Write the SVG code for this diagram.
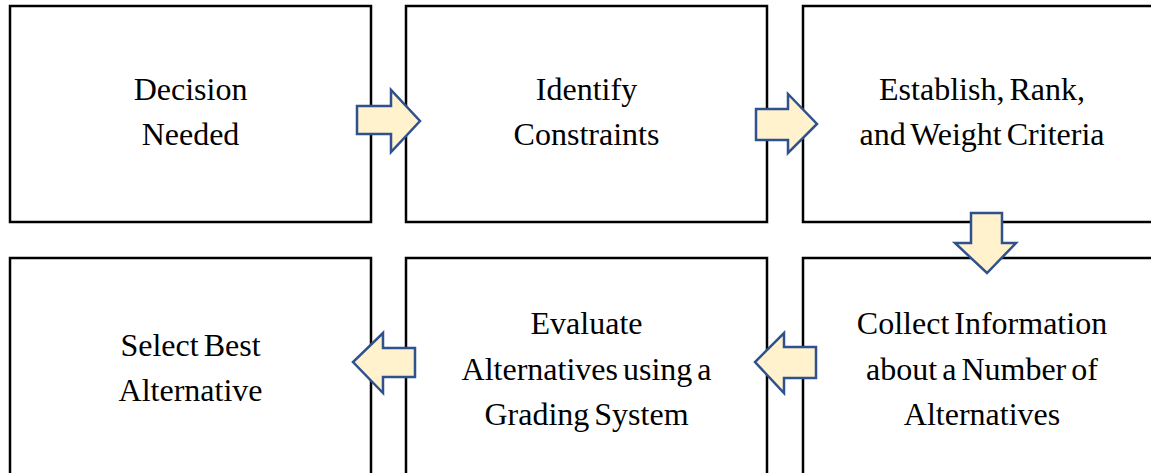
<svg xmlns="http://www.w3.org/2000/svg" width="1151" height="473" viewBox="0 0 1151 473">
<style>
.box{fill:#fff;stroke:#000;stroke-width:2.5}
.arr{fill:#FFF2CC;stroke:#2F528F;stroke-width:2.5;stroke-linejoin:miter}
text{font-family:"Liberation Serif","Times New Roman",serif;font-size:32px;fill:#000;text-anchor:middle;word-spacing:-3px}
</style>
<rect width="1151" height="473" fill="#fff"/>
<g id="n1"><rect class="box" x="10" y="6" width="361" height="216"/><text x="190.5" y="100">Decision</text><text x="190.5" y="145">Needed</text></g>
<g id="n2"><rect class="box" x="406" y="6" width="361" height="216"/><text x="586.5" y="100">Identify</text><text x="586.5" y="145">Constraints</text></g>
<g id="n3"><rect class="box" x="803" y="6" width="361" height="216"/><text x="982" y="100">Establish, Rank,</text><text x="982" y="145">and Weight Criteria</text></g>
<g id="n4"><rect class="box" x="803" y="258" width="361" height="222"/><text x="982" y="334">Collect Information</text><text x="982" y="380">about a Number of</text><text x="982" y="425">Alternatives</text></g>
<g id="n5"><rect class="box" x="406" y="258" width="361" height="222"/><text x="586.5" y="334">Evaluate</text><text x="586.5" y="380">Alternatives using a</text><text x="586.5" y="425">Grading System</text></g>
<g id="n6"><rect class="box" x="10" y="258" width="361" height="222"/><text x="190.5" y="356">Select Best</text><text x="190.5" y="401">Alternative</text></g>
<g id="connectors">
<polygon class="arr" points="357,106 391,106 391,90 420,121 391,152 391,134 357,134"/>
<polygon class="arr" points="756,109 788,109 788,94 817,124 788,153 788,140 756,140"/>
<polygon class="arr" points="971,213 1002,213 1002,243 1016,243 987,273 955,243 971,243"/>
<polygon class="arr" points="816,347 784,347 784,333 755,362 784,393 784,378 816,378"/>
<polygon class="arr" points="415,348 383,348 383,333 353,362 383,393 383,377 415,377"/>
</g>
</svg>
